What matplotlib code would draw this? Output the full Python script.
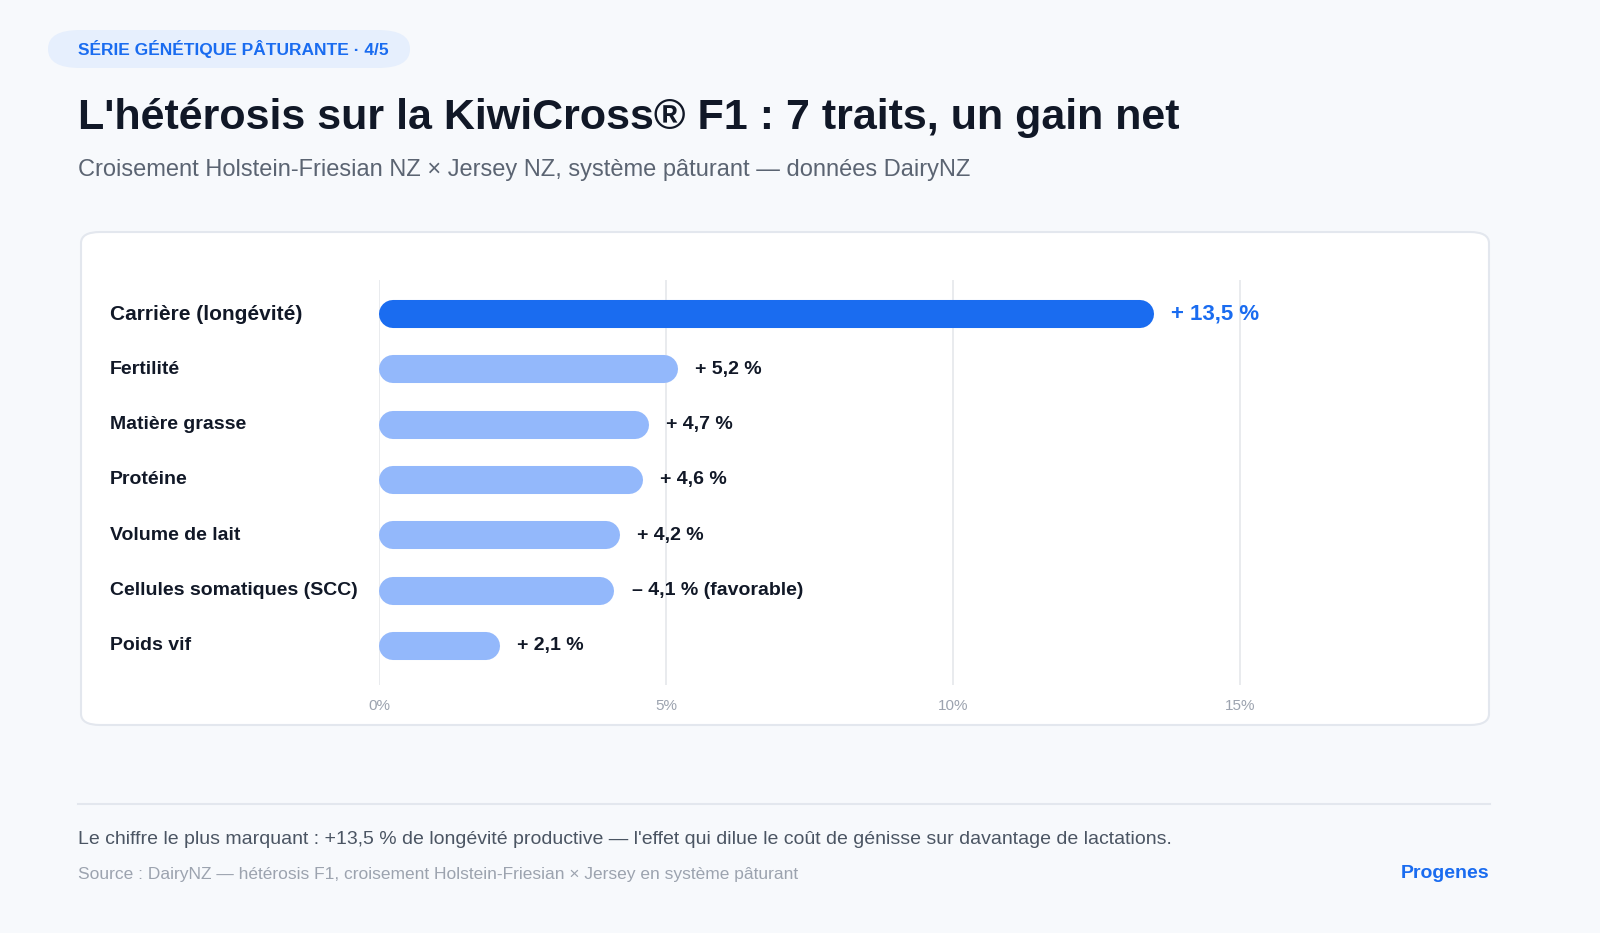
import matplotlib
matplotlib.use("Agg")
import matplotlib.pyplot as plt
from matplotlib.patches import FancyBboxPatch

plt.rcParams['font.family'] = ['Liberation Sans', 'DejaVu Sans']

categories = ["Carrière (longévité)", "Fertilité", "Matière grasse", "Protéine",
              "Volume de lait", "Cellules somatiques (SCC)", "Poids vif"]
values = [13.5, 5.2, 4.7, 4.6, 4.2, 4.1, 2.1]
labels = ["+ 13,5 %", "+ 5,2 %", "+ 4,7 %", "+ 4,6 %", "+ 4,2 %", "– 4,1 % (favorable)", "+ 2,1 %"]
ticks = [0, 5, 10, 15]
tick_labels = ["0%", "5%", "10%", "15%"]

W, H = 1600, 933
fig = plt.figure(figsize=(16, 9.33), dpi=100)
fig.patch.set_facecolor("#f7f9fc")

def fx(px): return px / W
def fy(py): return 1 - py / H

card = FancyBboxPatch((fx(81), fy(725)), fx(1489 - 81), (725 - 232) / H,
                      boxstyle="round,pad=0,rounding_size=0.012",
                      transform=fig.transFigure, facecolor="white",
                      edgecolor="#e3e7ee", linewidth=1.5, zorder=-5)
fig.patches.append(card)
pill = FancyBboxPatch((fx(48), fy(68)), fx(410 - 48), 38 / H,
                      boxstyle="round,pad=0,rounding_size=0.02",
                      transform=fig.transFigure, facecolor="#e6effd",
                      edgecolor="none", zorder=-5)
fig.patches.append(pill)
fig.text(fx(78), fy(49), "SÉRIE GÉNÉTIQUE PÂTURANTE · 4/5", color="#1a6cf0",
         fontsize=12.5, fontweight="bold", va="center")
fig.text(fx(78), fy(118), "L'hétérosis sur la KiwiCross® F1 : 7 traits, un gain net",
         color="#111827", fontsize=31, fontweight="bold", va="center")
fig.text(fx(78), fy(170), "Croisement Holstein-Friesian NZ × Jersey NZ, système pâturant — données DairyNZ",
         color="#5b6472", fontsize=17, va="center")

ax_left, ax_right = 379, 1470
ax_top, ax_bot = 280, 685
ax = fig.add_axes([fx(ax_left), fy(ax_bot), fx(ax_right - ax_left), (ax_bot - ax_top) / H])
ax.set_zorder(5)
ax.set_facecolor("none")
n = len(values)
ax.set_xlim(0, 19)
pxper = (ax_bot - ax_top)
def ypos(py): return (ax_bot - py)
ys = [314 + i * 55.33 for i in range(n)]
ax.set_ylim(0, pxper)
for t in ticks:
    ax.axvline(t, color="#e5e7eb", linewidth=1.2, zorder=0)
xpx = (ax_right - ax_left) / 19
r = 14 / xpx
for i, (c, v, lab) in enumerate(zip(categories, values, labels)):
    y = ypos(ys[i])
    col = "#1a6cf0" if i == 0 else "#93b8fb"
    ax.plot([r, v - r], [y, y], color=col, linewidth=20.2, solid_capstyle="round", zorder=2)
    ax.text(v + 0.3, y, lab, va="center", ha="left",
            color="#1a6cf0" if i == 0 else "#111827",
            fontsize=16 if i == 0 else 14, fontweight="bold")
    fig.text(fx(110), fy(ys[i]), c, va="center", ha="left", color="#111827",
             fontsize=15 if i == 0 else 14, fontweight="bold")
ax.set_xticks(ticks)
ax.set_xticklabels(tick_labels, color="#9ca3af", fontsize=11)
ax.tick_params(length=0, pad=10)
ax.set_yticks([])
for s in ax.spines.values():
    s.set_visible(False)

fig.add_artist(plt.Line2D([fx(78), fx(1490)], [fy(804), fy(804)], color="#e3e7ee", linewidth=1.5))
fig.text(fx(78), fy(839), "Le chiffre le plus marquant : +13,5 % de longévité productive — l'effet qui dilue le coût de génisse sur davantage de lactations.",
         color="#4b5563", fontsize=14, va="center")
fig.text(fx(78), fy(875), "Source : DairyNZ — hétérosis F1, croisement Holstein-Friesian × Jersey en système pâturant",
         color="#9ca3af", fontsize=12.5, va="center")
fig.text(fx(1489), fy(874), "Progenes", color="#1a6cf0", fontsize=14, fontweight="bold",
         va="center", ha="right")

fig.savefig("out.png", dpi=100, facecolor=fig.get_facecolor())
